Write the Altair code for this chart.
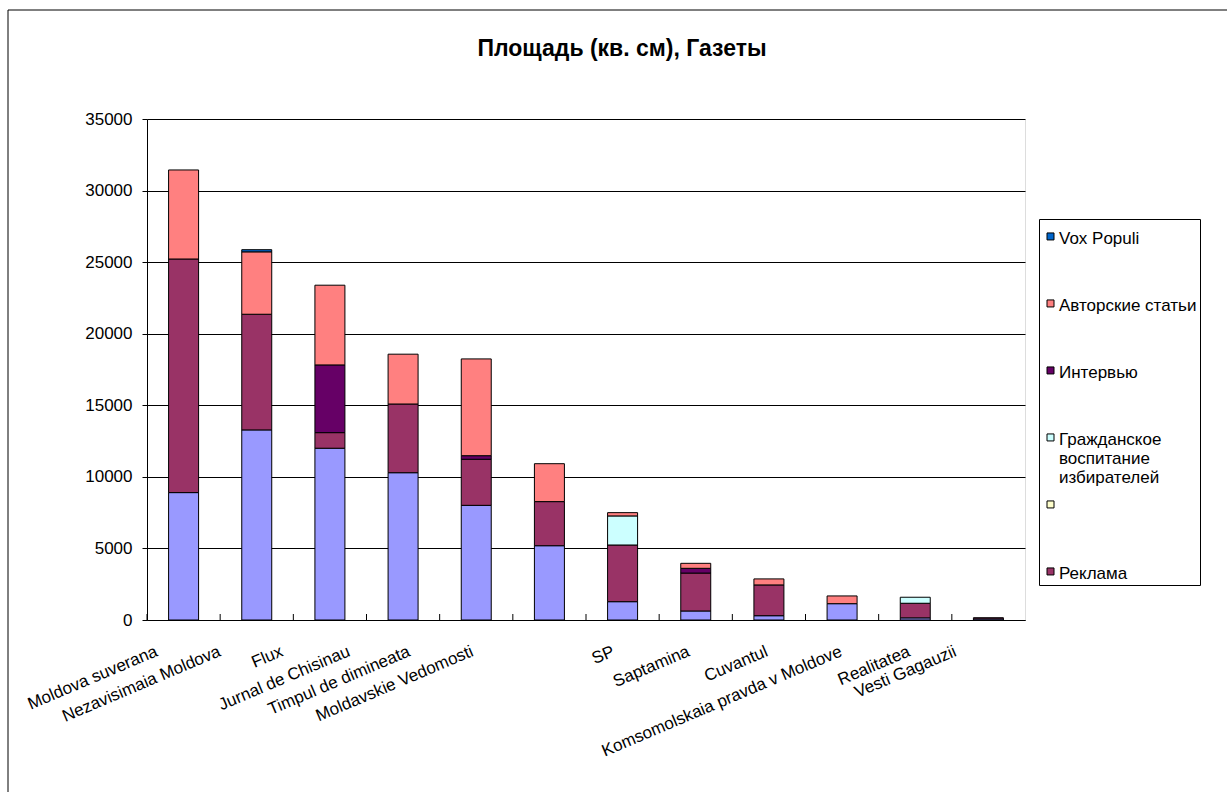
import altair as alt
import pandas as pd

categories = [
    "Moldova suverana", "Nezavisimaia Moldova", "Flux", "Jurnal de Chisinau",
    "Timpul de dimineata", "Moldavskie Vedomosti", "SP", "Saptamina",
    "Cuvantul", "Komsomolskaia pravda v Moldove", "Realitatea", "Vesti Gagauzii",
]

# stacking order: bottom -> top
series_names = [
    "Информационные материалы",
    "Реклама",
    "",
    "Гражданское воспитание избирателей",
    "Интервью",
    "Авторские статьи",
    "Vox Populi",
]
series_colors = ["#9999FF", "#993366", "#FFFFCC", "#CCFFFF", "#660066", "#FF8080", "#0066CC"]

s_info    = [8900, 13280, 12000, 10290, 8010, 5190, 1280, 630, 300, 1140, 150, 80]
s_reklama = [16320, 8080, 1090, 4800, 3220, 3080, 3960, 2650, 2150, 0, 1020, 80]
s_empty   = [0, 0, 0, 0, 0, 0, 0, 0, 0, 0, 0, 0]
s_grazhd  = [0, 0, 0, 0, 0, 0, 2030, 0, 0, 0, 420, 0]
s_interv  = [0, 0, 4730, 0, 250, 0, 0, 330, 0, 0, 0, 0]
s_avtor   = [6220, 4360, 5570, 3480, 6760, 2650, 230, 350, 420, 540, 0, 0]
s_vox     = [0, 150, 0, 0, 0, 0, 0, 0, 0, 0, 0, 0]

series_values = [s_info, s_reklama, s_empty, s_grazhd, s_interv, s_avtor, s_vox]

legend_values = [
    "Vox Populi", "Авторские статьи", "Интервью",
    "Гражданское воспитание избирателей", "", "Реклама",
]

rows = []
for idx, (name, vals) in enumerate(zip(series_names, series_values)):
    for cat, v in zip(categories, vals):
        rows.append({"Газета": cat, "Серия": name, "idx": idx, "Площадь": v})
df = pd.DataFrame(rows)

# ---- styling ----
W, H = 878, 501
FONT = "Liberation Sans"
step_half = W / len(categories) / 2

# horizontal nudges of the category labels (Excel staggers them)
label_shift = {
    "Moldova suverana": -30, "Nezavisimaia Moldova": -40, "Flux": -51,
    "Jurnal de Chisinau": -57, "Timpul de dimineata": -70, "Moldavskie Vedomosti": -80,
    "SP": -12, "Saptamina": -10, "Cuvantul": -5,
    "Komsomolskaia pravda v Moldove": -4, "Realitatea": -9, "Vesti Gagauzii": -36,
}
label_offset = {
    "condition": [
        {"test": f"datum.value == '{k}'", "value": v} for k, v in label_shift.items()
    ],
    "value": 0,
}

x_enc = alt.X(
    "Газета:N",
    sort=categories,
    scale=alt.Scale(paddingInner=0.59, paddingOuter=0.295),
    axis=alt.Axis(
        title=None, labelAngle=-23, labelAlign="right", labelBaseline="top",
        labelPadding=23, labelOffset=label_offset, ticks=False, tickSize=0,
        labelFont=FONT, labelFontSize=17, labelColor="black", domainColor="black",
        labelLimit=400, labelOverlap=False,
    ),
)

bars = alt.Chart(df).transform_filter("datum['Площадь'] > 0").mark_bar(
    stroke="black", strokeWidth=1
).encode(
    x=x_enc,
    y=alt.Y(
        "Площадь:Q",
        stack="zero",
        scale=alt.Scale(domain=[0, 35000], nice=False),
        axis=alt.Axis(
            title=None, values=[0, 5000, 10000, 15000, 20000, 25000, 30000, 35000],
            format="d", grid=True, gridColor="black", gridWidth=1, tickColor="black",
            tickSize=5, domainColor="black", labelFont=FONT, labelFontSize=17,
            labelColor="black", labelPadding=10,
        ),
    ),
    color=alt.Color(
        "Серия:N",
        scale=alt.Scale(domain=series_names, range=series_colors),
        legend=alt.Legend(
            title=None, orient="none", legendX=892, legendY=100, values=legend_values,
            strokeColor="black", fillColor="white", padding=3,
            symbolType="M-1,0.7H1V2.7H-1Z", symbolSize=49,
            symbolStrokeColor="black", symbolStrokeWidth=1,
            labelFont=FONT, labelFontSize=17, labelColor="black", labelLimit=500,
            rowPadding=4, gridAlign="all", labelBaseline="top", labelOffset=0,
            labelExpr="datum.label == 'Гражданское воспитание избирателей' ? ['Гражданское', 'воспитание', 'избирателей'] : datum.label",
        ),
    ),
    order=alt.Order("idx:Q"),
)

ticks = alt.Chart(pd.DataFrame({"Газета": categories})).mark_rule(
    color="black", strokeWidth=1, xOffset=-step_half
).encode(
    x=alt.X("Газета:N", sort=categories),
    y=alt.value(H - 6),
    y2=alt.value(H),
)

frame = alt.Chart(pd.DataFrame({"a": [0]})).mark_rect(
    fill="transparent", stroke="black", strokeWidth=1
).encode(
    x=alt.value(8 - 147), y=alt.value(10 - 119), x2=alt.value(1400), y2=alt.value(900),
)

chart = alt.layer(frame, bars, ticks).properties(
    width=W, height=H,
    title=alt.TitleParams(
        "Площадь (кв. см), Газеты", font=FONT, fontSize=23, fontWeight="bold",
        color="black", anchor="middle", dx=36, offset=-69, baseline="alphabetic",
    ),
    autosize=alt.AutoSizeParams(type="none"),
    padding={"left": 147, "top": 119, "right": 202, "bottom": 172},
).configure_view(
    fill="#C0C0C0", stroke="#808080", strokeWidth=1
).configure(background="white")

chart.save("out.html", embed_options={"renderer": "svg", "actions": False})
